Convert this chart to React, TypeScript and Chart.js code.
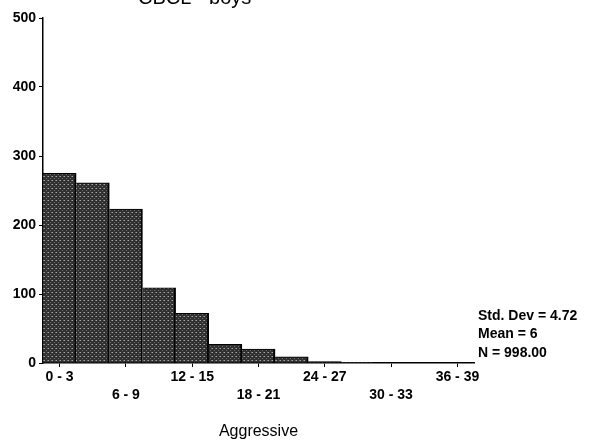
import React, { useEffect, useRef } from "react";
import { Chart, registerables } from "chart.js";

Chart.register(...registerables);

const categories = ["0 - 3", "3 - 6", "6 - 9", "9 - 12", "12 - 15", "15 - 18", "18 - 21", "21 - 24", "24 - 27", "27 - 30", "30 - 33", "33 - 36", "36 - 39"];
const counts = [275, 261, 223, 109, 72, 27, 20, 9, 2, 1, 0, 0, 0];
const yTicks = [0, 100, 200, 300, 400, 500];
const statsLines = ["Std. Dev = 4.72", "Mean = 6", "N = 998.00"];
const chartTitle = "CBCL - boys";
const xTitle = "Aggressive";

const FONT = "'Liberation Sans', Arial, sans-serif";

function makePattern(): CanvasPattern | string {
  const c = document.createElement("canvas");
  c.width = 4;
  c.height = 4;
  const g = c.getContext("2d");
  if (!g) return "#3a3a3a";
  g.fillStyle = "#303030";
  g.fillRect(0, 0, 4, 4);
  g.fillStyle = "#a8a8a8";
  g.fillRect(0, 0, 1, 1);
  g.fillStyle = "#6e6e6e";
  g.fillRect(2, 2, 1, 1);
  g.fillRect(3, 0, 1, 1);
  const p = g.createPattern(c, "repeat");
  return p || "#3a3a3a";
}

const textPlugin = {
  id: "extraText",
  afterDraw(chart: any) {
    const ctx = chart.ctx;
    ctx.save();
    ctx.fillStyle = "#000";
    ctx.textAlign = "left";
    ctx.textBaseline = "middle";
    ctx.font = `bold 14px ${FONT}`;
    statsLines.forEach((s, i) => {
      ctx.fillText(s, 478, 316 + i * 18.5);
    });
    ctx.font = `20px ${FONT}`;
    ctx.textBaseline = "alphabetic";
    ctx.fillText(chartTitle, 138, 4);
    ctx.restore();
  },
};

export default function App() {
  const ref = useRef<HTMLCanvasElement | null>(null);
  useEffect(() => {
    document.body.style.margin = "0";
    const canvas = ref.current;
    if (!canvas) return;
    const pattern = makePattern();
    const chart = new Chart(canvas, {
      type: "bar",
      data: {
        labels: categories,
        datasets: [
          {
            data: counts,
            backgroundColor: pattern as any,
            borderColor: "#000",
            borderWidth: { top: 1, right: 2, left: 0, bottom: 0 } as any,
            borderSkipped: false,
            barPercentage: 1,
            categoryPercentage: 1,
          },
        ],
      },
      options: {
        animation: false,
        responsive: false,
        maintainAspectRatio: false,
        layout: { padding: { top: 18, right: 118, left: 0, bottom: 0 } },
        plugins: { legend: { display: false }, tooltip: { enabled: false }, title: { display: false } },
        scales: {
          x: {
            grid: {
              drawOnChartArea: false,
              offset: false,
              tickLength: 4,
              tickColor: (c: any) => (c.index % 2 === 0 ? "#000" : "rgba(0,0,0,0)"),
            },
            border: { color: "#000", width: 1.5 },
            ticks: {
              autoSkip: false,
              maxRotation: 0,
              minRotation: 0,
              padding: 1,
              color: "#000",
              font: { family: FONT, size: 14, weight: "bold", lineHeight: 1.3 },
              callback: (_v: any, i: number) => {
                if (i % 2 !== 0) return "";
                const lbl = categories[i];
                return (i / 2) % 2 === 0 ? lbl : ["", lbl];
              },
            },
            title: {
              display: true,
              text: xTitle,
              color: "#000",
              font: { family: FONT, size: 16 },
              padding: { top: 0, bottom: 6 },
            },
            afterFit: (s: any) => {
              s.height = 84;
            },
          },
          y: {
            min: 0,
            max: 500,
            grid: { drawOnChartArea: false, tickLength: 4, tickColor: "#000" },
            border: { color: "#000", width: 1.5 },
            ticks: {
              stepSize: 100,
              padding: 3,
              color: "#000",
              font: { family: FONT, size: 14, weight: "bold" },
              callback: (v: any) => (yTicks.includes(Number(v)) ? String(v) : ""),
            },
            afterFit: (s: any) => {
              s.width = 43;
            },
          },
        },
      },
      plugins: [textPlugin],
    });
    return () => chart.destroy();
  }, []);
  return (
    <div style={{ position: "fixed", left: 0, top: 0, width: 592, height: 447, background: "#fff" }}>
      <canvas ref={ref} width={592} height={447} style={{ width: 592, height: 447, display: "block" }} />
    </div>
  );
}
